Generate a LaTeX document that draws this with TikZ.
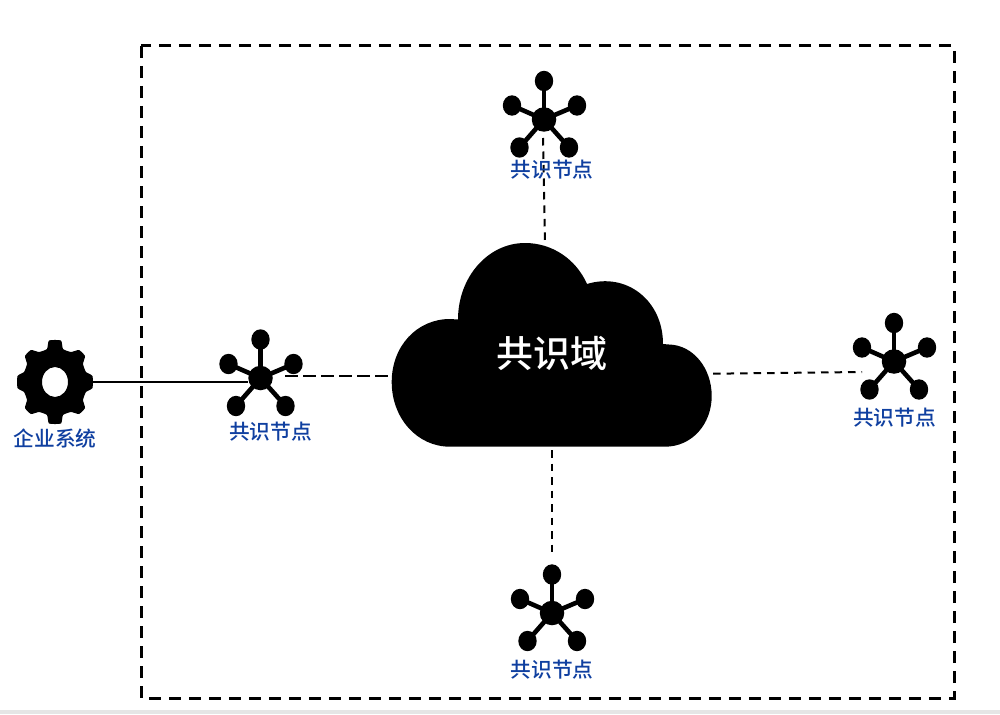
\documentclass[tikz,border=0pt]{standalone}
\usepackage{fontspec}
\newfontfamily\cjkb{Noto Sans CJK SC Medium}
\definecolor{lab}{HTML}{0F3FA0}
\usetikzlibrary{calc}
\tikzset{
  x=1pt,y=-1pt,
  hubdot/.style={circle,fill=black,inner sep=0pt,minimum size=24.5pt},
  spoke/.style={line width=4.6pt,black},
  frameline/.style={line width=3pt,dash pattern=on 12pt off 8pt,black},
  dashlink/.style={line width=2pt,dash pattern=on 7.5pt off 6pt,black},
  dashlong/.style={line width=2.3pt,dash pattern=on 13pt off 5pt,black},
  solidlink/.style={line width=2.5pt,black},
  lbl/.style={text=lab,font=\cjkb\fontsize{20.7}{22}\selectfont,inner sep=0pt},
}
\newcommand{\netnode}[3]{%
  \node[hubdot] (#3) at (#1,#2) {};
  \foreach \dx/\dy in {0/-38.5,-32/-14,33/-14,-24.5/28,25/28}{
    \draw[spoke] (#3.center) -- ++(\dx,\dy);
    \fill[black] ($(#3.center)+(\dx,\dy)$) ellipse [x radius=9.2pt,y radius=10.2pt];
  }
}
\begin{document}
\begin{tikzpicture}
\useasboundingbox (0,0) rectangle (1000,714);
\fill[white] (0,0) rectangle (1000,714);
\fill[black!10] (0,710) rectangle (1000,714);
\draw[frameline] (141,46) rectangle (954,698);
% cloud
\fill[black] (450,446.7)
  .. controls (417,446.7) and (391.7,418) .. (391.7,382)
  .. controls (391.7,346) and (417,319) .. (450,319)
  -- (458,319.5)
  .. controls (458,277) and (488,243) .. (525,243)
  .. controls (552,243) and (576,259) .. (587,284)
  .. controls (626,272) and (663,300) .. (663,344)
  -- (669,344.5)
  .. controls (693,345) and (711.7,368) .. (711.7,396)
  .. controls (711.7,424) and (692,446.7) .. (665,446.7) -- cycle;
\node[inner sep=0pt,text=white,font=\cjkb\fontsize{37}{40}\selectfont] (cloudlabel) at (552,353) {共识域};
\coordinate (cloudT) at (545,243);
\coordinate (cloudL) at (390,376);
\coordinate (cloudR) at (713,373.7);
\coordinate (cloudB) at (552,450);
% gear
\fill[black,even odd rule]
  plot[smooth cycle,tension=0.3] coordinates {
    (49,340.5) (61,340.5) (63,349) (71,352) (79,350) (85,356) (83,364) (86,372) (92.5,376)
    (92.5,388) (86,392) (83,400) (85,408) (79,414) (71,412) (63,415) (61,423.5)
    (49,423.5) (47,415) (39,412) (31,414) (25,408) (27,400) (24,392) (17.5,388)
    (17.5,376) (24,372) (27,364) (25,356) (31,350) (39,352) (47,349)
  }
  (55,382) ellipse [x radius=13pt,y radius=15pt];
\node[inner sep=0pt,minimum size=1pt] (gear) at (92,382) {};
% network nodes
\netnode{260.5}{378}{nA}
\netnode{544}{119.5}{nB}
\netnode{894}{361.5}{nC}
\netnode{552}{613}{nD}
\coordinate (nAe) at (285,376);
\coordinate (nBs) at (543,138);
\coordinate (nCw) at (862,372);
\coordinate (nDn) at (552,558);
\coordinate (gearjoin) at (248,382);
% connectors
\draw[solidlink] (gear.center) -- (gearjoin);
\draw[dashlong] (nAe) -- (cloudL);
\draw[dashlink] (nBs) -- (cloudT);
\draw[dashlink] (cloudR) -- (nCw);
\draw[dashlink] (cloudB) -- (nDn);
% labels
\node[lbl] (l0) at (55,439) {企业系统};
\node[lbl] (lA) at (270.5,432) {共识节点};
\node[lbl] (lB) at (552,170) {共识节点};
\node[lbl] (lC) at (894.5,418) {共识节点};
\node[lbl] (lD) at (552,670) {共识节点};
\end{tikzpicture}
\end{document}
